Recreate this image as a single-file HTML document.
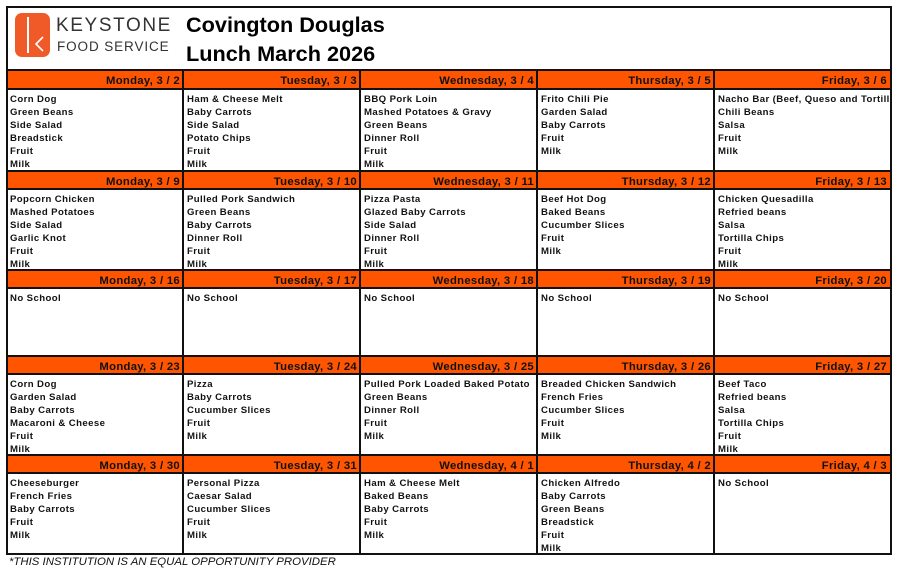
<!DOCTYPE html>
<html><head><meta charset="utf-8"><style>
body{margin:0;width:898px;height:575px;background:#fff;position:relative;overflow:hidden;font-family:"Liberation Sans",Arial,sans-serif}
.a{position:absolute}
.ln{position:absolute;background:#111}
.hd{position:absolute;background:#ff5500;font-weight:bold;font-size:11.3px;text-align:right;line-height:22px;color:#111;letter-spacing:0.3px;overflow:hidden}
.bd{position:absolute;font-weight:bold;font-size:9.6px;line-height:12.9px;color:#111;letter-spacing:0.4px;white-space:nowrap;overflow:hidden}
</style></head><body>
<div class="a" style="left:15px;top:13px;width:35px;height:44px;background:#f05a28;border-radius:7px"></div>
<div class="a" style="left:27px;top:17px;width:2px;height:36px;background:#fff"></div>
<svg class="a" style="left:15px;top:13px" width="35" height="44"><polyline points="28,24 21,31 28,38" fill="none" stroke="#fff" stroke-width="1.6"/></svg>
<div class="a" style="left:56px;top:15px;font-size:19px;letter-spacing:1.6px;color:#333">KEYSTONE</div>
<div class="a" style="left:57px;top:39px;font-size:13.5px;letter-spacing:0.9px;color:#333">FOOD SERVICE</div>
<div class="a" style="left:186px;top:12px;font-size:21.7px;font-weight:bold;color:#000">Covington Douglas</div>
<div class="a" style="left:186px;top:41px;font-size:21.7px;font-weight:bold;color:#000">Lunch March 2026</div>
<div class="a" style="left:9px;top:556px;font-size:11.4px;font-style:italic;color:#111">*THIS INSTITUTION IS AN EQUAL OPPORTUNITY PROVIDER</div>
<div id="g"></div>
<script>
var X=[6,183,360,537,714,890],HT=[70,171,270,356,455],HB=[89,189,288,374,473],END=554;
var days=["Monday","Tuesday","Wednesday","Thursday","Friday"];
var dates=[["3 / 2","3 / 3","3 / 4","3 / 5","3 / 6"],["3 / 9","3 / 10","3 / 11","3 / 12","3 / 13"],["3 / 16","3 / 17","3 / 18","3 / 19","3 / 20"],["3 / 23","3 / 24","3 / 25","3 / 26","3 / 27"],["3 / 30","3 / 31","4 / 1","4 / 2","4 / 3"]];
var M=[
[["Corn Dog","Green Beans","Side Salad","Breadstick","Fruit","Milk"],["Ham & Cheese Melt","Baby Carrots","Side Salad","Potato Chips","Fruit","Milk"],["BBQ Pork Loin","Mashed Potatoes & Gravy","Green Beans","Dinner Roll","Fruit","Milk"],["Frito Chili Pie","Garden Salad","Baby Carrots","Fruit","Milk"],["Nacho Bar (Beef, Queso and Tortilla Chips)","Chili Beans","Salsa","Fruit","Milk"]],
[["Popcorn Chicken","Mashed Potatoes","Side Salad","Garlic Knot","Fruit","Milk"],["Pulled Pork Sandwich","Green Beans","Baby Carrots","Dinner Roll","Fruit","Milk"],["Pizza Pasta","Glazed Baby Carrots","Side Salad","Dinner Roll","Fruit","Milk"],["Beef Hot Dog","Baked Beans","Cucumber Slices","Fruit","Milk"],["Chicken Quesadilla","Refried beans","Salsa","Tortilla Chips","Fruit","Milk"]],
[["No School"],["No School"],["No School"],["No School"],["No School"]],
[["Corn Dog","Garden Salad","Baby Carrots","Macaroni & Cheese","Fruit","Milk"],["Pizza","Baby Carrots","Cucumber Slices","Fruit","Milk"],["Pulled Pork Loaded Baked Potato","Green Beans","Dinner Roll","Fruit","Milk"],["Breaded Chicken Sandwich","French Fries","Cucumber Slices","Fruit","Milk"],["Beef Taco","Refried beans","Salsa","Tortilla Chips","Fruit","Milk"]],
[["Cheeseburger","French Fries","Baby Carrots","Fruit","Milk"],["Personal Pizza","Caesar Salad","Cucumber Slices","Fruit","Milk"],["Ham & Cheese Melt","Baked Beans","Baby Carrots","Fruit","Milk"],["Chicken Alfredo","Baby Carrots","Green Beans","Breadstick","Fruit","Milk"],["No School"]]];
var h="";
for(var r=0;r<5;r++){for(var c=0;c<5;c++){
 var l=X[c]+1,w=X[c+1]-X[c]-1;
 h+='<div class="hd" style="left:'+l+'px;top:'+HT[r]+'px;width:'+(w-3)+'px;padding-right:3px;height:'+(HB[r]-HT[r])+'px">'+days[c]+', '+dates[r][c]+'</div>';
 h+='<div class="bd" style="left:'+(l+3)+'px;top:'+(HB[r]+5)+'px;width:'+(w-4)+'px">'+M[r][c].join('<br>').replace(/&(?!amp)/g,'&amp;')+'</div>';
}
 h+='<div class="ln" style="left:6px;top:'+(HT[r]-1)+'px;width:886px;height:2px"></div>';
 h+='<div class="ln" style="left:6px;top:'+(HB[r]-1)+'px;width:886px;height:2px"></div>';
}
h+='<div class="ln" style="left:6px;top:'+(END-1)+'px;width:886px;height:2px"></div>';
h+='<div class="ln" style="left:6px;top:6px;width:886px;height:2px"></div>';
h+='<div class="ln" style="left:6px;top:6px;width:2px;height:549px"></div>';
h+='<div class="ln" style="left:890px;top:6px;width:2px;height:549px"></div>';
for(var c=1;c<5;c++)h+='<div class="ln" style="left:'+(X[c]-1)+'px;top:70px;width:2px;height:485px"></div>';
document.getElementById('g').innerHTML=h;
</script>
</body></html>
